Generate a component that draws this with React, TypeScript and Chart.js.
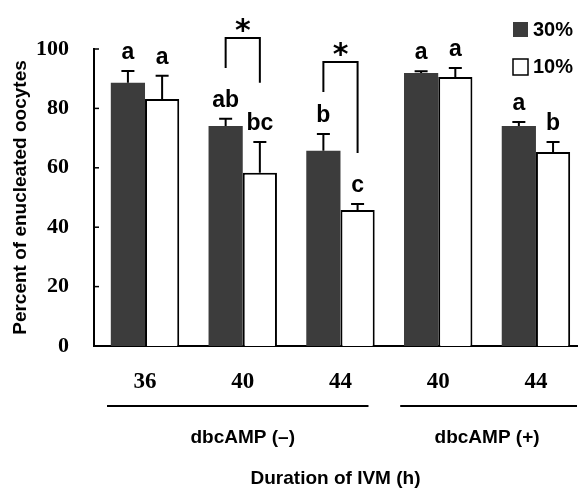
import React, { useEffect, useRef } from 'react';
import { Chart, registerables } from 'chart.js';

Chart.register(...registerables);

// ---- data ----
const categories = ['36', '40', '44', '40', '44'];
const seriesNames = ['30%', '10%'];
const values30 = [88.6, 74.1, 65.7, 91.9, 74.1];
const errors30 = [4.0, 2.4, 5.7, 0.6, 1.3];
const values10 = [83.2, 58.3, 45.8, 90.6, 65.3];
const errors10 = [7.8, 10.4, 2.0, 3.0, 3.4];
const letters30 = ['a', 'ab', 'b', 'a', 'a'];
const letters10 = ['a', 'bc', 'c', 'a', 'b'];
const yTicks = [0, 20, 40, 60, 80, 100];
const groupLabels = ['dbcAMP (–)', 'dbcAMP (+)'];
const groupFirst = [0, 3];
const groupLast = [2, 4];
const bracketCats = [1, 2];
const bracketTop = [103.7, 95.6];
const bracketLeftEnd = [93.6, 85.5];
const bracketRightEnd = [88.6, 65.0];
const yTitle = 'Percent of enucleated oocytes';
const xTitle = 'Duration of IVM (h)';

const DARK = '#3c3c3c';
const SANS = 'Liberation Sans, Arial, sans-serif';
const SERIF = 'Liberation Serif, Times New Roman, serif';

const errorsBySeries = [errors30, errors10];
const lettersBySeries = [letters30, letters10];

const annotationPlugin = {
  id: 'annotations',
  afterDatasetsDraw(chart: any) {
    const { ctx } = chart;
    const y = chart.scales.y;
    ctx.save();
    ctx.strokeStyle = '#000';
    ctx.lineWidth = 2;
    [0, 1].forEach((di) => {
      const meta = chart.getDatasetMeta(di);
      const vals = di === 0 ? values30 : values10;
      meta.data.forEach((el: any, i: number) => {
        const top = y.getPixelForValue(vals[i] + errorsBySeries[di][i]);
        ctx.beginPath();
        ctx.moveTo(el.x, el.y);
        ctx.lineTo(el.x, top);
        ctx.moveTo(el.x - 6.5, top);
        ctx.lineTo(el.x + 6.5, top);
        ctx.stroke();
      });
    });
    ctx.restore();
  },
  afterDraw(chart: any) {
    const { ctx, chartArea } = chart;
    const x = chart.scales.x;
    const y = chart.scales.y;
    ctx.save();
    ctx.fillStyle = '#000';
    ctx.strokeStyle = '#000';

    // inward y tick marks
    ctx.lineWidth = 1.5;
    yTicks.forEach((v) => {
      const py = y.getPixelForValue(v);
      ctx.beginPath();
      ctx.moveTo(chartArea.left, py);
      ctx.lineTo(chartArea.left + 5, py);
      ctx.stroke();
    });

    // significance letters
    ctx.font = `bold 23px ${SANS}`;
    ctx.textAlign = 'center';
    ctx.textBaseline = 'alphabetic';
    [0, 1].forEach((di) => {
      const meta = chart.getDatasetMeta(di);
      const vals = di === 0 ? values30 : values10;
      meta.data.forEach((el: any, i: number) => {
        const top = y.getPixelForValue(vals[i] + errorsBySeries[di][i]);
        ctx.fillText(lettersBySeries[di][i], el.x, top - 12);
      });
    });

    // brackets with asterisks
    ctx.lineWidth = 2;
    bracketCats.forEach((c, k) => {
      const xl = chart.getDatasetMeta(0).data[c].x;
      const xr = chart.getDatasetMeta(1).data[c].x;
      const yt = y.getPixelForValue(bracketTop[k]);
      ctx.beginPath();
      ctx.moveTo(xl, y.getPixelForValue(bracketLeftEnd[k]));
      ctx.lineTo(xl, yt);
      ctx.lineTo(xr, yt);
      ctx.lineTo(xr, y.getPixelForValue(bracketRightEnd[k]));
      ctx.stroke();
      ctx.font = `bold 30px DejaVu Sans, ${SANS}`;
      ctx.textAlign = 'center';
      ctx.textBaseline = 'alphabetic';
      ctx.fillText('*', (xl + xr) / 2, yt - 15 + 0.58 * 30);
    });

    // group lines and labels
    ctx.font = `bold 19px ${SANS}`;
    ctx.textAlign = 'center';
    ctx.textBaseline = 'middle';
    groupLabels.forEach((lab, g) => {
      const x0 = x.getPixelForValue(groupFirst[g]) - 38;
      const x1 =
        g === groupLabels.length - 1
          ? chartArea.right
          : x.getPixelForValue(groupLast[g]) + 28;
      const ly = chartArea.bottom + 60;
      ctx.lineWidth = 2;
      ctx.beginPath();
      ctx.moveTo(x0, ly);
      ctx.lineTo(x1, ly);
      ctx.stroke();
      const cx = (x.getPixelForValue(groupFirst[g]) + x.getPixelForValue(groupLast[g])) / 2;
      ctx.fillText(lab, cx, chartArea.bottom + 92);
    });

    // legend
    const lx = 513;
    const ly0 = 22;
    const gap = 37;
    ctx.font = `bold 20px ${SANS}`;
    ctx.textAlign = 'left';
    ctx.textBaseline = 'middle';
    seriesNames.forEach((name, i) => {
      const sy = ly0 + i * gap;
      if (i === 0) {
        ctx.fillStyle = DARK;
        ctx.fillRect(lx, sy, 15, 15);
      } else {
        ctx.fillStyle = '#fff';
        ctx.fillRect(lx, sy, 15, 16);
        ctx.lineWidth = 1.5;
        ctx.strokeRect(lx, sy, 15, 16);
      }
      ctx.fillStyle = '#000';
      ctx.fillText(name, lx + 20, sy + 8);
    });
    ctx.restore();
  },
};

export default function App() {
  const ref = useRef<HTMLCanvasElement>(null);
  useEffect(() => {
    const canvas = ref.current;
    if (!canvas) return;
    const chart = new Chart(canvas, {
      type: 'bar',
      data: {
        datasets: [
          {
            label: seriesNames[0],
            data: values30.map((v, i) => ({ x: i, y: v })),
            backgroundColor: DARK,
            borderColor: DARK,
            borderWidth: 0,
          },
          {
            label: seriesNames[1],
            data: values10.map((v, i) => ({ x: i, y: v })),
            backgroundColor: '#fff',
            borderColor: '#000',
            borderWidth: 2,
            borderSkipped: 'bottom',
          },
        ],
      },
      options: {
        animation: false,
        responsive: false,
        layout: { padding: { top: 49, right: 2, left: 0, bottom: 0 } },
        plugins: { legend: { display: false }, tooltip: { enabled: false } },
        datasets: { bar: { categoryPercentage: 0.7, barPercentage: 1.0 } },
        scales: {
          x: {
            type: 'linear',
            offset: false,
            min: -0.522,
            max: 4.42,
            afterBuildTicks: (s: any) => {
              s.ticks = categories.map((_, i) => ({ value: i }));
            },
            afterFit: (s: any) => {
              s.height = 144;
            },
            grid: { display: false, offset: false },
            border: { display: true, color: '#000', width: 2 },
            ticks: {
              autoSkip: false,
              maxRotation: 0,
              padding: 14,
              color: '#000',
              font: { family: SERIF, weight: 'bold', size: 23 },
              callback: (v: any) => categories[v] ?? '',
            },
            title: {
              display: true,
              text: xTitle,
              color: '#000',
              font: { family: SANS, weight: 'bold', size: 19 },
              padding: { top: 0, bottom: 0 },
            },
          },
          y: {
            min: 0,
            max: 100,
            afterBuildTicks: (s: any) => {
              s.ticks = yTicks.map((v) => ({ value: v }));
            },
            afterFit: (s: any) => {
              s.width = 94;
            },
            grid: { display: false },
            border: { display: true, color: '#000', width: 2 },
            ticks: {
              padding: 17,
              color: '#000',
              font: { family: SERIF, weight: 'bold', size: 22 },
            },
            title: {
              display: true,
              text: yTitle,
              color: '#000',
              font: { family: SANS, weight: 'bold', size: 19 },
              padding: { top: 9, bottom: 0 },
            },
          },
        },
      } as any,
      plugins: [annotationPlugin],
    });
    return () => chart.destroy();
  }, []);
  return (
    <div style={{ position: 'fixed', left: 0, top: 0, width: 579, height: 490, background: '#fff' }}>
      <canvas ref={ref} width={579} height={490} style={{ display: 'block' }} />
    </div>
  );
}
